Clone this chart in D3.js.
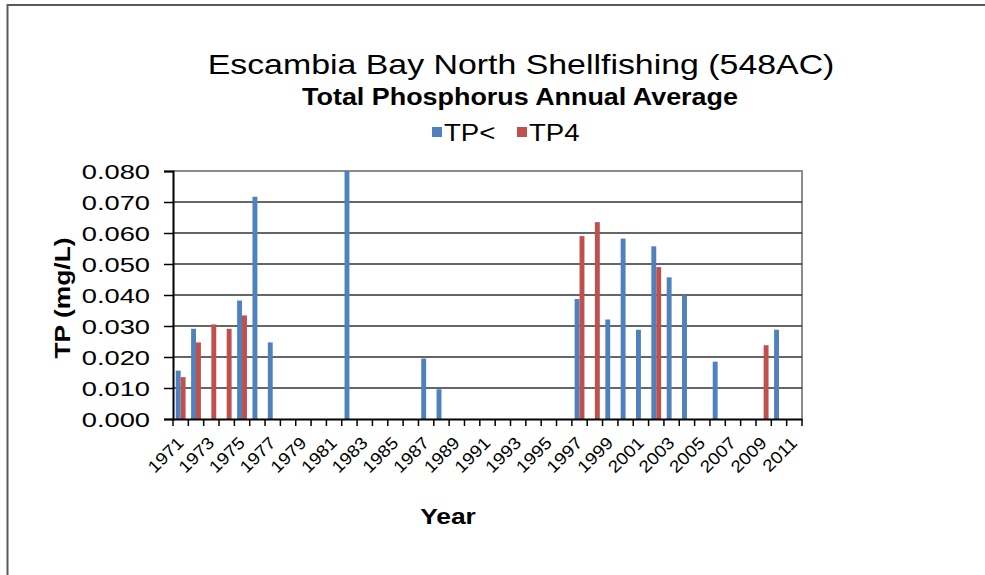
<!DOCTYPE html>
<html>
<head>
<meta charset="utf-8">
<script src="https://cdn.jsdelivr.net/npm/d3@7"></script>
<style>
  html, body { margin: 0; padding: 0; background: #fff; }
  svg { display: block; font-family: "Liberation Sans", Arial, sans-serif; }
</style>
</head>
<body>
<svg id="chart" width="985" height="575"></svg>
<script>
// Sampling years (one category per year)
const years = [1971, 1972, 1973, 1974, 1975, 1976, 1977, 1978, 1979, 1980,
               1981, 1982, 1983, 1984, 1985, 1986, 1987, 1988, 1989, 1990,
               1991, 1992, 1993, 1994, 1995, 1996, 1997, 1998, 1999, 2000,
               2001, 2002, 2003, 2004, 2005, 2006, 2007, 2008, 2009, 2010, 2011];

// Annual average total phosphorus (mg/L), null where no sample
const tpLess = [0.0156, 0.0291, null, null, 0.0382, 0.0717, 0.0247, null, null, null,
                null, 0.0800, null, null, null, null, 0.0195, 0.0096, null, null,
                null, null, null, null, null, null, 0.0387, null, 0.0321, 0.0582,
                0.0288, 0.0557, 0.0457, 0.0399, null, 0.0185, null, null, null, 0.0288, null];
const tp4 = [0.0135, 0.0247, 0.0305, 0.0291, 0.0334, null, null, null, null, null,
             null, null, null, null, null, null, null, null, null, null,
             null, null, null, null, null, null, 0.0590, 0.0635, null, null,
             null, 0.0490, null, null, null, null, null, null, 0.0238, null, null];

const seriesNames = ["TP<", "TP4"];
const seriesValues = [tpLess, tp4];
const seriesColors = ["#4F81BD", "#C0504D"];

const yTicks = [0, 0.01, 0.02, 0.03, 0.04, 0.05, 0.06, 0.07, 0.08];
const xLabelYears = years.filter((y, i) => i % 2 === 0);

const titleText = "Escambia Bay North Shellfishing (548AC)";
const subtitleText = "Total Phosphorus Annual Average";
const xTitle = "Year";
const yTitle = "TP (mg/L)";

const svg = d3.select("#chart");

const plot = { left: 173, right: 802, top: 171, bottom: 419 };

const x = d3.scaleBand().domain(years).range([plot.left, plot.right]).paddingInner(0).paddingOuter(0);
const xs = d3.scaleBand().domain(seriesNames).range([0, x.bandwidth()]).paddingInner(0).paddingOuter(0.565);
const y = d3.scaleLinear().domain([0, 0.08]).range([plot.bottom, plot.top]);

// Outer chart frame (top and left edges)
svg.append("path")
  .attr("d", `M7.5,575 L7.5,5 L985,5`)
  .attr("fill", "none").attr("stroke", "#5a5a5a").attr("stroke-width", 2);

// Text helper: glyphs widened along the text direction
function label(parent, txt, tx, ty, opts) {
  const g = parent.append("g")
    .attr("transform", `translate(${tx},${ty}) rotate(${opts.rotate || 0}) scale(${opts.sx || 1},1)`);
  return g.append("text")
    .text(txt)
    .attr("text-anchor", opts.anchor || "middle")
    .attr("dy", opts.dy || 0)
    .attr("font-size", opts.size)
    .attr("font-weight", opts.weight || "normal")
    .attr("fill", "#000");
}

// Plot area border (top/right)
svg.append("path")
  .attr("d", `M${plot.left},${plot.top} L${plot.right},${plot.top} L${plot.right},${plot.bottom}`)
  .attr("fill", "none").attr("stroke", "#8c8c8c").attr("stroke-width", 2);

// Horizontal gridlines
svg.append("g").selectAll("line")
  .data(yTicks.filter(d => d > 0 && d < 0.08))
  .join("line")
  .attr("x1", plot.left).attr("x2", plot.right)
  .attr("y1", d => y(d)).attr("y2", d => y(d))
  .attr("stroke", "#333").attr("stroke-width", 1.5);

// Bars
seriesNames.forEach((name, si) => {
  const vals = seriesValues[si];
  svg.append("g").selectAll("rect")
    .data(years.map((yr, i) => ({ yr, v: vals[i] })).filter(d => d.v != null))
    .join("rect")
    .attr("x", d => x(d.yr) + xs(name))
    .attr("width", xs.bandwidth())
    .attr("y", d => y(d.v))
    .attr("height", d => y(0) - y(d.v))
    .attr("fill", seriesColors[si]);
});

// Y axis
const yAxis = svg.append("g")
  .attr("transform", `translate(${plot.left},0)`)
  .call(d3.axisLeft(y).tickValues(yTicks).tickSize(9).tickFormat(""));
yAxis.select(".domain").attr("stroke", "#000").attr("stroke-width", 2);
yAxis.selectAll(".tick line").attr("stroke", "#000").attr("stroke-width", 1.5);

yTicks.forEach(v => {
  label(svg, d3.format(".3f")(v), 150, y(v), { size: 21, sx: 1.3, anchor: "end", dy: "0.36em" });
});

// X axis
const xAxis = svg.append("g")
  .attr("transform", `translate(0,${plot.bottom})`)
  .call(d3.axisBottom(x).tickSize(0).tickFormat(""));
xAxis.select(".domain").attr("stroke", "#000").attr("stroke-width", 2);
svg.append("g").selectAll("line")
  .data(years.concat(["end"]))
  .join("line")
  .attr("x1", d => d === "end" ? plot.right : x(d))
  .attr("x2", d => d === "end" ? plot.right : x(d))
  .attr("y1", plot.bottom).attr("y2", plot.bottom + 7)
  .attr("stroke", "#000").attr("stroke-width", 1.5);

xLabelYears.forEach(yr => {
  const cx = x(yr) + x.bandwidth() / 2;
  label(svg, String(yr), cx + 4, plot.bottom + 25, { size: 17, sx: 1.12, anchor: "end", rotate: -45 });
});

// Titles
label(svg, titleText, 521, 74, { size: 28, sx: 1.21 });
label(svg, subtitleText, 520, 105, { size: 23, sx: 1.17, weight: "bold" });
label(svg, xTitle, 448, 524, { size: 22, sx: 1.2, weight: "bold" });
label(svg, yTitle, 62, 298, { size: 22, sx: 1.2, weight: "bold", rotate: -90, dy: "0.36em" });

// Legend
const legend = [
  { name: seriesNames[0], color: seriesColors[0], x: 432 },
  { name: seriesNames[1], color: seriesColors[1], x: 517 }
];
legend.forEach(d => {
  svg.append("rect").attr("x", d.x).attr("y", 127).attr("width", 10).attr("height", 10).attr("fill", d.color);
  label(svg, d.name, d.x + 12, 141, { size: 24, sx: 1.15, anchor: "start" });
});
</script>
</body>
</html>
